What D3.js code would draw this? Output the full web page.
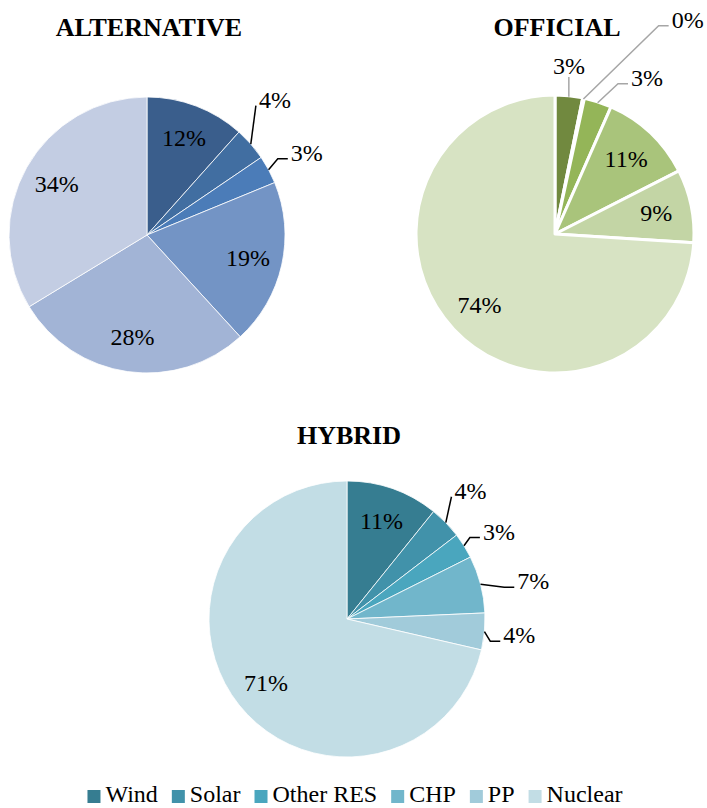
<!DOCTYPE html>
<html>
<head>
<meta charset="utf-8">
<script src="https://cdn.jsdelivr.net/npm/d3@7"></script>
<style>
  body { margin: 0; background: #fff; }
  svg { display: block; }
  text { font-family: "Liberation Serif", "DejaVu Serif", serif; fill: #000; }
</style>
</head>
<body>
<svg id="chart" width="707" height="808"></svg>
<script>
// categories and shares (%)
const categories = ["Wind", "Solar", "Other RES", "CHP", "PP", "Nuclear"];
const alternativeValues = [11.6, 3.9, 3.3, 19.4, 28.1, 33.7];
const officialValues = [3.2, 0.2, 3.2, 10.9, 8.5, 74.0];
const hybridValues = [10.8, 3.8, 3.0, 6.7, 4.3, 71.4];
const titles = ["ALTERNATIVE", "OFFICIAL", "HYBRID"];

const blueColors = ["#3a5e8c", "#416ea1", "#4b7cb8", "#7394c5", "#a2b4d6", "#c3cde3"];
const greenColors = ["#71893f", "#86a24c", "#94b558", "#a9c47b", "#c3d5a5", "#d7e3c3"];
const tealColors = ["#367d91", "#4192aa", "#4aa6be", "#71b6cb", "#a1cbda", "#c2dde5"];

let svg = d3.select("#chart");
let R = 138;

// layout of the three pies (center, colours, leader style, label nudges)
let charts = [
    { title: titles[0], values: alternativeValues, colors: blueColors, cx: 147, cy: 235, titleY: 36,
      sep: 0.8, leader: "#000", nudge: { "Solar": [-6, -18], "Other RES": [3, 2] } },
    { title: titles[1], values: officialValues, colors: greenColors, cx: 555, cy: 234, titleY: 36,
      sep: 3, leader: "#a6a6a6", nudge: { "Wind": [-4, 9], "Solar": [96, -40], "Other RES": [37, 13] } },
    { title: titles[2], values: hybridValues, colors: tealColors, cx: 347, cy: 619, titleY: 444,
      sep: 0.8, leader: "#000", nudge: { "Solar": [-4, -4], "Other RES": [1, 7], "CHP": [14, 7], "PP": [-5, 0] } }
];

let pie = d3.pie().sort(null).value(d => d.value);

charts.forEach(c => {
    let data = categories.map((k, i) => ({ key: k, value: c.values[i], color: c.colors[i] }));
    let arcs = pie(data);
    let outer = c.sep > 1 ? R + 1 : R;
    let arc = d3.arc().innerRadius(0).outerRadius(outer);
    let labelArc = d3.arc().innerRadius(R * 0.75).outerRadius(R * 0.75);

    svg.append("text")
        .attr("x", c.cx + 2)
        .attr("y", c.titleY)
        .attr("text-anchor", "middle")
        .style("font-size", "26px")
        .style("font-weight", "bold")
        .text(c.title);

    let g = svg.append("g").attr("transform", `translate(${c.cx},${c.cy})`);

    g.selectAll("path")
        .data(arcs)
        .enter().append("path")
        .attr("d", arc)
        .attr("fill", d => d.data.color)
        .attr("stroke", "#fff")
        .attr("stroke-width", c.sep)
        .attr("stroke-linejoin", "round");

    // labels inside the larger slices
    g.selectAll("text.inner")
        .data(arcs.filter(d => d.data.value >= 8))
        .enter().append("text")
        .attr("class", "inner")
        .attr("x", d => labelArc.centroid(d)[0])
        .attr("y", d => labelArc.centroid(d)[1] + 8)
        .attr("text-anchor", "middle")
        .style("font-size", "24px")
        .text(d => Math.round(d.data.value) + "%");

    // outside labels with leader lines for the small slices
    arcs.filter(d => d.data.value < 8).forEach(d => {
        let mid = (d.startAngle + d.endAngle) / 2;
        let ex = Math.sin(mid) * R, ey = -Math.cos(mid) * R;
        let n = c.nudge[d.data.key] || [0, 0];
        let lx = Math.sin(mid) * (R + 40) + n[0];
        let ly = -Math.cos(mid) * (R + 40) + n[1];

        let t = g.append("text")
            .attr("x", lx)
            .attr("y", ly + 8)
            .attr("text-anchor", "middle")
            .style("font-size", "24px")
            .text(Math.round(d.data.value) + "%");
        let w = t.node().getComputedTextLength();
        let left = lx - w / 2;

        let pts;
        if (ex >= left - 2) {
            pts = [[ex, ey], [ex, ly + 11]];
        } else {
            let px = left - 3, py = ly + 6;
            if (ex > px - 10) pts = [[ex, ey], [px, py]];
            else pts = [[ex, ey], [px - 10, py], [px, py]];
        }
        g.append("path")
            .attr("d", d3.line()(pts))
            .attr("fill", "none")
            .attr("stroke", c.leader)
            .attr("stroke-width", 1.5);
    });
});

// legend (uses the hybrid palette)
let legend = svg.append("g");
let x = 0;
categories.forEach((k, i) => {
    let item = legend.append("g").attr("transform", `translate(${x},0)`);
    item.append("rect")
        .attr("x", 0).attr("y", 790)
        .attr("width", 13).attr("height", 13)
        .attr("fill", tealColors[i]);
    let t = item.append("text")
        .attr("x", 18).attr("y", 802)
        .style("font-size", "24px")
        .text(k);
    x += 18 + t.node().getComputedTextLength() + 14;
});
let total = x - 14;
legend.attr("transform", `translate(${355 - total / 2},0)`);
</script>
</body>
</html>
